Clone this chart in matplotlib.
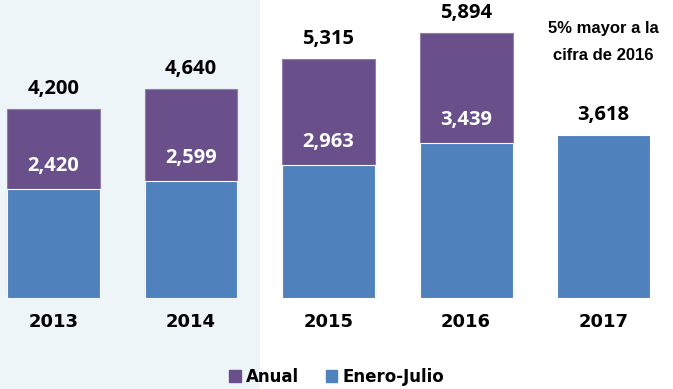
import matplotlib.pyplot as plt
from matplotlib.patches import Rectangle, Patch

# data
years = ['2013', '2014', '2015', '2016', '2017']
anual = [4200, 4640, 5315, 5894, None]
enero_julio = [2420, 2599, 2963, 3439, 3618]
note = '5% mayor a la\ncifra de 2016'

purple = '#69508A'
blue = '#4F81BD'

fig = plt.figure(figsize=(6.73, 3.89), dpi=100)
fig.patch.set_facecolor('white')

# light shading behind 2013-2014
fig.patches.append(Rectangle((0, 0), 260 / 673, 1, transform=fig.transFigure,
                             facecolor='#EDF5F8', edgecolor='none', zorder=-5))

ax = fig.add_axes([0, 91 / 389, 1, 298 / 389])
ax.set_facecolor('none')

x = list(range(len(years)))
w = 0.676

for i in x:
    if anual[i] is not None:
        ax.bar(i, anual[i], width=w, color=purple, edgecolor='#8f7faa',
               linewidth=0.8, zorder=2)
        ax.text(i, anual[i] + 220, f'{anual[i]:,}', ha='center', va='bottom',
                fontsize=14.5, fontweight='bold', family='Open Sans')
        ax.text(i, enero_julio[i] + 290, f'{enero_julio[i]:,}', ha='center',
                va='bottom', fontsize=14.5, fontweight='bold', color='white',
                family='Open Sans')
    ax.bar(i, enero_julio[i], width=w, color=blue, edgecolor='white',
           linewidth=0.8, zorder=3)

# 2017 label and note
ax.text(4, enero_julio[4] + 220, f'{enero_julio[4]:,}', ha='center',
        va='bottom', fontsize=14.5, fontweight='bold', family='Open Sans')
ax.text(4, 5230, note, ha='center', va='bottom', fontsize=12,
        fontweight='bold', linespacing=1.95, family='Liberation Sans')

# year labels
for i, yr in zip(x, years):
    ax.text(i, -540, yr, ha='center', va='center', fontsize=13,
            fontweight='bold', family='DejaVu Sans')

ax.set_xlim(-0.389, 4.505)
ax.set_ylim(0, 6622)
ax.axis('off')

handles = [Patch(color=purple, label='Anual'), Patch(color=blue, label='Enero-Julio')]
fig.legend(handles=handles, loc='center', bbox_to_anchor=(0.5, 12 / 389),
           ncol=2, frameon=False, prop={'size': 12, 'weight': 'bold'},
           handlelength=0.7, handleheight=0.7, handletextpad=0.3,
           columnspacing=1.6)

fig.savefig('out.png', dpi=100)
